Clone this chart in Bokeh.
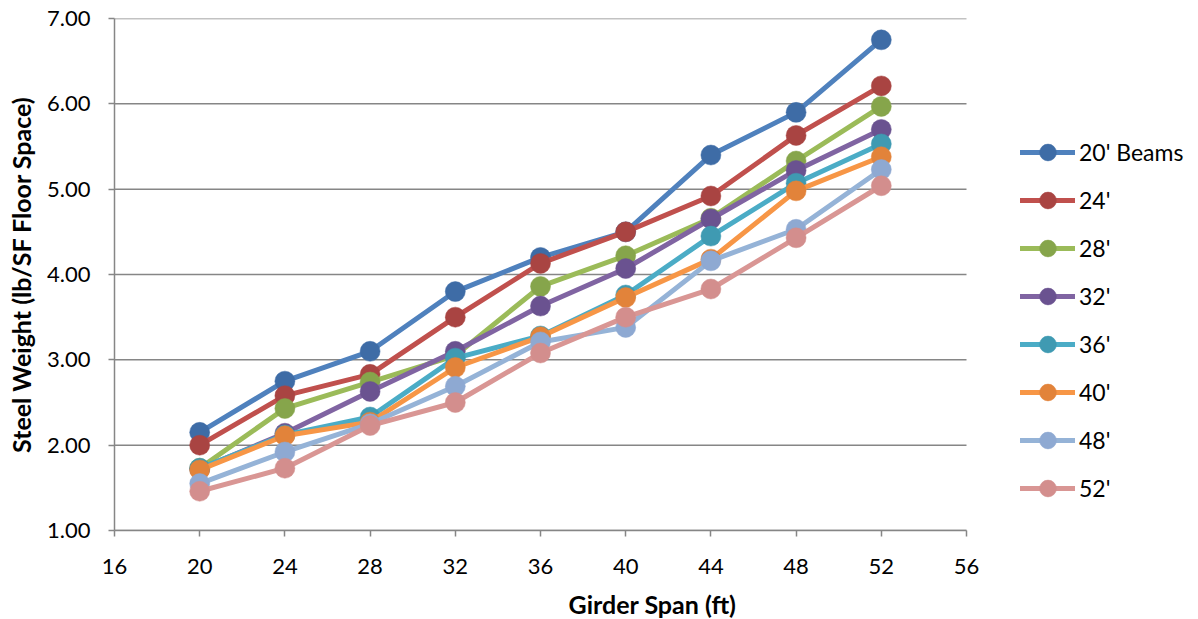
from bokeh.plotting import figure
from bokeh.models import Legend, LegendItem, FixedTicker, Range1d, NumeralTickFormatter
from bokeh.embed import file_html
from bokeh.resources import INLINE

spans = [20, 24, 28, 32, 36, 40, 44, 48, 52]
series_names = ["20' Beams", "24'", "28'", "32'", "36'", "40'", "48'", "52'"]
beams_20 = [2.15, 2.75, 3.10, 3.80, 4.20, 4.50, 5.40, 5.90, 6.75]
beams_24 = [2.00, 2.58, 2.83, 3.50, 4.13, 4.50, 4.92, 5.63, 6.21]
beams_28 = [1.73, 2.43, 2.74, 3.05, 3.86, 4.22, 4.66, 5.33, 5.97]
beams_32 = [1.72, 2.14, 2.63, 3.10, 3.63, 4.07, 4.65, 5.22, 5.70]
beams_36 = [1.73, 2.12, 2.33, 3.02, 3.28, 3.76, 4.45, 5.07, 5.53]
beams_40 = [1.71, 2.11, 2.27, 2.91, 3.27, 3.73, 4.18, 4.98, 5.38]
beams_48 = [1.55, 1.92, 2.25, 2.69, 3.21, 3.38, 4.16, 4.53, 5.23]
beams_52 = [1.46, 1.73, 2.23, 2.50, 3.08, 3.50, 3.83, 4.43, 5.04]
all_series = [beams_20, beams_24, beams_28, beams_32, beams_36, beams_40, beams_48, beams_52]

line_colors = ["#4F81BD", "#C0504D", "#9BBB59", "#8064A2", "#4BACC6", "#F79646", "#95B3D7", "#D99694"]
marker_colors = ["#3E6CA6", "#A94442", "#86A54B", "#6A5290", "#3F9AB2", "#E2833A", "#8EA9D2", "#D38E8D"]

x_ticks = [16, 20, 24, 28, 32, 36, 40, 44, 48, 52, 56]
y_ticks = [1, 2, 3, 4, 5, 6, 7]
x_min, x_max = 16, 56

FONT = "Lato"
GRID = "#868686"

# layout (pixels)
W = 1190
LEFT, TOP, BOTTOM = 114, 18, 86
FRAME_H = 512
PLOT_W = 852  # width of the 16..56 axis span
frame_w = W - LEFT
x_end = x_min + (x_max - x_min) * frame_w / PLOT_W  # extra room on the right for the legend

p = figure(frame_width=frame_w, frame_height=FRAME_H, output_backend="svg", toolbar_location=None,
           x_range=Range1d(x_min, x_end), y_range=Range1d(1, 7),
           min_border_left=LEFT, min_border_right=0, min_border_top=TOP, min_border_bottom=BOTTOM)
p.outline_line_color = None
p.background_fill_color = "white"
p.border_fill_color = "white"

p.xgrid.grid_line_color = None
p.ygrid.grid_line_color = None

# horizontal gridlines only over the axis span
p.segment(x0=[x_min] * len(y_ticks), x1=[x_max] * len(y_ticks), y0=y_ticks, y1=y_ticks,
          line_color=GRID, line_width=1.5)

p.xaxis.ticker = FixedTicker(ticks=x_ticks)
p.xaxis.bounds = (x_min, x_max)
p.yaxis.ticker = FixedTicker(ticks=y_ticks)
p.yaxis.formatter = NumeralTickFormatter(format="0.00")

for ax in (p.xaxis, p.yaxis):
    ax.axis_line_color = GRID
    ax.axis_line_width = 1.5
    ax.major_tick_line_color = GRID
    ax.major_tick_line_width = 1.5
    ax.major_tick_out = 6
    ax.major_tick_in = 0
    ax.minor_tick_line_color = None
    ax.major_label_text_font = FONT
    ax.major_label_text_font_size = "22px"
    ax.major_label_text_color = "#000000"
    ax.axis_label_text_font = FONT
    ax.axis_label_text_font_size = "25px"
    ax.axis_label_text_font_style = "bold"
    ax.axis_label_text_color = "#000000"

p.xaxis.axis_label = "Girder Span (ft)"
p.yaxis.axis_label = "Steel Weight (lb/SF Floor Space)"
p.xaxis.major_label_standoff = 22
p.yaxis.major_label_standoff = 18
p.xaxis.axis_label_standoff = 12
p.yaxis.axis_label_standoff = 8

items = []
for name, vals, lc, mc in zip(series_names, all_series, line_colors, marker_colors):
    r1 = p.line(spans, vals, line_color=lc, line_width=5, line_join="round", line_cap="round")
    r2 = p.scatter(spans, vals, size=20, fill_color=mc, line_color=mc, line_width=0.5, marker="circle")
    items.append(LegendItem(label=name, renderers=[r1, r2]))

legend = Legend(items=items, location=(906, 21), orientation="vertical",
                glyph_width=55, glyph_height=42, spacing=6, padding=0, margin=0,
                label_standoff=4, label_text_font=FONT, label_text_font_size="23px",
                label_text_color="#000000", border_line_color=None, background_fill_alpha=0)
p.add_layout(legend)

open("out.html", "w").write(file_html(p, INLINE))
